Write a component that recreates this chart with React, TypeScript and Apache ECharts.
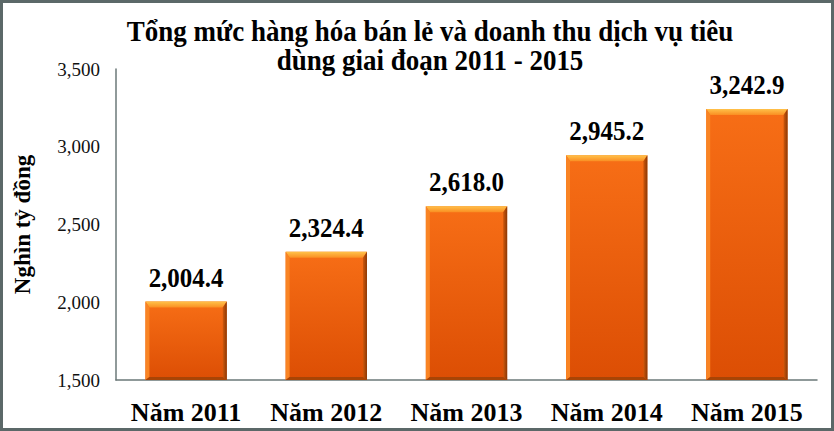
import React, { useEffect, useRef } from "react";
import * as echarts from "echarts";

const categories = ["Năm 2011", "Năm 2012", "Năm 2013", "Năm 2014", "Năm 2015"];
const values = [2004.4, 2324.4, 2618.0, 2945.2, 3242.9];
const Y_MIN = 1500;
const Y_MAX = 3500;
const Y_STEP = 500;
const titleLines = ["Tổng mức hàng hóa bán lẻ và doanh thu dịch vụ tiêu", "dùng giai đoạn 2011 - 2015"];
const yAxisName = "Nghìn tỷ đồng";

const FONT = "'Liberation Serif', 'Times New Roman', serif";

export default function App() {
  const ref = useRef<HTMLDivElement>(null);
  useEffect(() => {
    if (!ref.current) return;
    const chart = echarts.init(ref.current, undefined, { renderer: "svg" });
    const fmt = (v: number) =>
      v.toLocaleString("en-US", { minimumFractionDigits: 1, maximumFractionDigits: 1 });
    chart.setOption({
      animation: false,
      backgroundColor: "#ffffff",
      graphic: [
        {
          type: "rect",
          shape: { x: 1.5, y: 1.5, width: 831, height: 428 },
          style: { fill: "none", stroke: "#5b6868", lineWidth: 3 },
          z: 100,
        },
        {
          type: "text",
          x: 430,
          y: 30,
          scaleY: 1.12,
          style: {
            text: titleLines[0],
            font: `bold 27px ${FONT}`,
            fill: "#000",
            align: "center",
            verticalAlign: "middle",
          },
        },
        {
          type: "text",
          x: 430,
          y: 59,
          scaleY: 1.12,
          style: {
            text: titleLines[1],
            font: `bold 27px ${FONT}`,
            fill: "#000",
            align: "center",
            verticalAlign: "middle",
          },
        },
      ],
      grid: { left: 116, right: 17, top: 69, bottom: 51, containLabel: false },
      xAxis: {
        type: "category",
        data: categories,
        axisLine: { show: true, lineStyle: { color: "#6b7878", width: 1.5 } },
        axisTick: { show: false },
        axisLabel: {
          interval: 0,
          hideOverlap: false,
          margin: 19,
          color: "#000",
          fontFamily: FONT,
          fontWeight: "bold",
          fontSize: 26,
        },
      },
      yAxis: {
        type: "value",
        min: Y_MIN,
        max: Y_MAX,
        interval: Y_STEP,
        name: yAxisName,
        nameLocation: "middle",
        nameGap: 82,
        nameTextStyle: {
          color: "#000",
          fontFamily: FONT,
          fontWeight: 700,
          fontSize: 23,
        },
        axisLine: { show: true, lineStyle: { color: "#6b7878", width: 1.5 } },
        axisTick: { show: false },
        splitLine: { show: false },
        axisLabel: {
          margin: 16,
          color: "#111",
          fontFamily: FONT,
          fontSize: 19,
          formatter: (v: number) => v.toLocaleString("en-US"),
        },
      },
      series: [
        {
          type: "custom",
          data: values.map((v, i) => [i, v]),
          renderItem: (params: any, api: any) => {
            const idx = api.value(0);
            const val = api.value(1);
            const top = api.coord([idx, val]);
            const bot = api.coord([idx, Y_MIN]);
            const bw = api.size([1, 0])[0] * 0.58;
            const x = top[0] - bw / 2;
            const y = top[1];
            const w = bw;
            const h = bot[1] - top[1];
            const bt = 6;
            const bs = 4;
            const bb = 3;
            return {
              type: "group",
              children: [
                {
                  type: "rect",
                  shape: { x, y, width: w, height: h },
                  style: {
                    fill: new echarts.graphic.LinearGradient(0, 0, 0, 1, [
                      { offset: 0, color: "#f76e16" },
                      { offset: 1, color: "#dc4e04" },
                    ]),
                  },
                },
                {
                  type: "polygon",
                  shape: { points: [[x, y], [x + w, y], [x + w - bs, y + bt], [x + bs, y + bt]] },
                  style: {
                    fill: new echarts.graphic.LinearGradient(0, 0, 0, 1, [
                      { offset: 0, color: "#ffc24a" },
                      { offset: 1, color: "#fa8e22" },
                    ]),
                  },
                },
                {
                  type: "polygon",
                  shape: { points: [[x, y], [x + bs, y + bt], [x + bs, y + h - bb], [x, y + h]] },
                  style: { fill: "#f98424" },
                },
                {
                  type: "polygon",
                  shape: { points: [[x + w, y], [x + w, y + h], [x + w - bs, y + h - bb], [x + w - bs, y + bt]] },
                  style: {
                    fill: new echarts.graphic.LinearGradient(1, 0, 0, 0, [
                      { offset: 0, color: "#8a3805" },
                      { offset: 1, color: "#d0580c" },
                    ]),
                  },
                },
                {
                  type: "polygon",
                  shape: { points: [[x, y + h], [x + w, y + h], [x + w - bs, y + h - bb], [x + bs, y + h - bb]] },
                  style: { fill: "#a84405" },
                },
                {
                  type: "text",
                  x: top[0],
                  y: y - 10,
                  scaleY: 1.1,
                  style: {
                    text: fmt(val),
                    font: `bold 25px ${FONT}`,
                    fill: "#000",
                    align: "center",
                    verticalAlign: "bottom",
                  },
                },
              ],
            };
          },
        },
      ],
    });
    return () => chart.dispose();
  }, []);
  return (
    <div
      ref={ref}
      style={{ position: "absolute", left: 0, top: 0, width: 834, height: 431 }}
    />
  );
}
